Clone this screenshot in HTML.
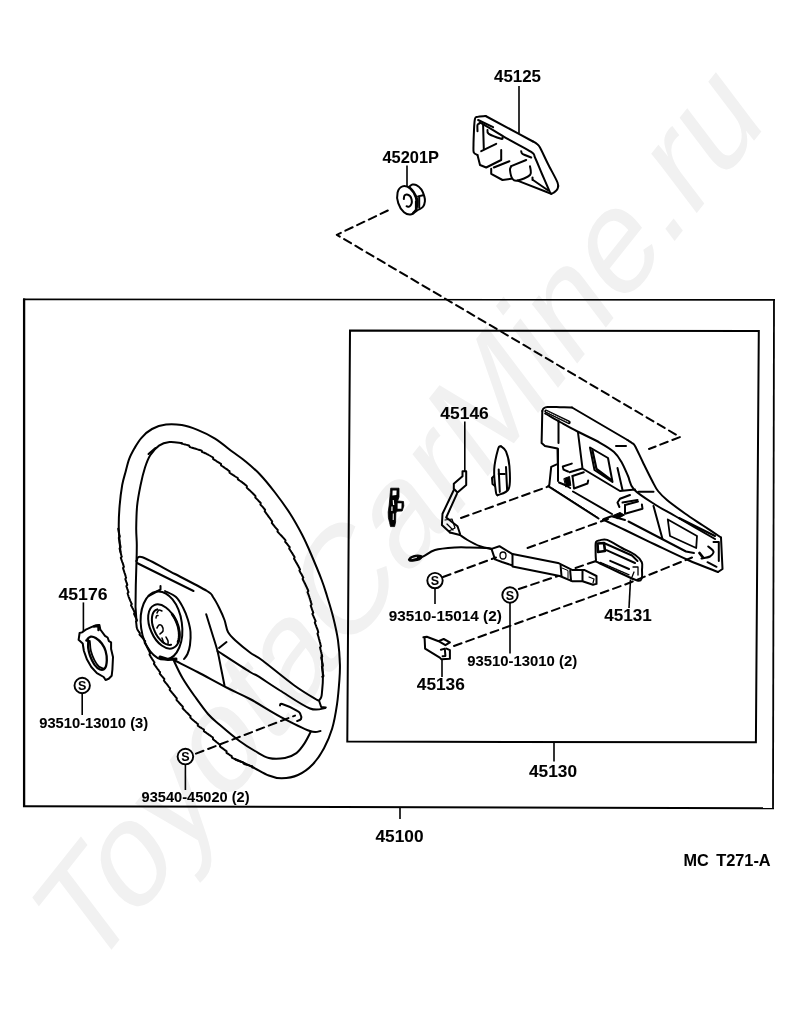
<!DOCTYPE html>
<html><head><meta charset="utf-8"><style>
html,body{margin:0;padding:0;background:#fff;width:800px;height:1034px;overflow:hidden}
svg{display:block}
text{font-family:"Liberation Sans",sans-serif;font-weight:bold;fill:#000;stroke:#000;stroke-width:0.05px}
svg{will-change:transform;opacity:0.999}
</style></head><body>
<svg width="800" height="1034" viewBox="0 0 800 1034">
<rect width="800" height="1034" fill="#fff"/>
<!-- WATERMARK -->
<g id="wm"><text transform="matrix(0.8588 -1.0812 0.855 1.13 89.3 977.7)" font-size="100" style="font-weight:normal;fill:#f1f1f1;stroke:none;font-kerning:normal">ToyotaCarMine.ru</text></g>
<!-- FRAMES -->
<g fill="none" stroke="#000" stroke-width="2">
<line x1="23" y1="299.4" x2="775" y2="299.9" stroke-width="1.6"/>
<line x1="24.1" y1="298.5" x2="24.1" y2="807" stroke-width="2.3"/>
<line x1="23" y1="806.2" x2="774" y2="808.2" stroke-width="2"/>
<line x1="774" y1="299.5" x2="773" y2="809" stroke-width="1.8"/>
<polygon points="350,330.5 758.8,331 755.9,742.3 347.3,741.6"/>
</g>
<!-- DRAWINGS -->
<g id="draw" fill="none" stroke="#000" stroke-width="2" stroke-linejoin="round" stroke-linecap="round">
<path d="M235.0,759.0 C237.9,760.3 246.9,764.2 252.5,767.0 C258.1,769.8 263.9,773.6 268.8,775.5 C273.6,777.4 276.9,778.4 281.8,778.3 C286.6,778.2 292.9,777.3 298.0,775.0 C303.1,772.7 308.3,769.0 312.6,764.5 C316.9,760.0 320.8,754.2 324.0,748.2 C327.2,742.3 329.9,736.1 332.1,728.8 C334.3,721.4 335.8,712.5 337.0,704.4 C338.2,696.3 338.9,686.7 339.4,680.0 C339.9,673.3 340.1,670.9 339.9,664.3 C339.7,657.7 339.1,648.4 338.0,640.4 C336.9,632.4 334.9,624.1 333.0,616.5 C331.1,608.9 328.6,601.2 326.7,595.0 C324.8,588.8 324.1,586.3 321.5,579.5 C318.9,572.7 314.2,561.5 311.0,554.0 C307.8,546.5 305.5,541.2 302.0,534.5 C298.5,527.8 294.5,520.5 290.0,513.5 C285.5,506.5 280.0,499.0 275.0,492.5 C270.0,486.0 265.0,479.8 260.0,474.5 C255.0,469.2 249.6,464.8 245.0,461.0 C240.4,457.2 237.5,455.5 232.5,451.8 C227.5,448.0 220.8,442.2 215.0,438.6 C209.2,435.0 203.0,432.1 197.5,429.9 C192.0,427.7 187.0,426.0 181.8,425.1 C176.5,424.3 171.0,424.0 166.0,424.6 C161.0,425.2 156.1,426.8 152.0,429.0 C147.9,431.2 144.4,434.5 141.5,437.8 C138.6,441.0 136.5,444.8 134.5,448.2 C132.5,451.8 130.7,455.0 129.2,458.8 C127.8,462.5 126.9,466.6 125.8,471.0 C124.6,475.4 123.3,479.2 122.2,485.0 C121.2,490.8 120.2,498.7 119.6,506.0 C119.0,513.3 118.6,521.1 118.8,528.8 C118.9,536.4 120.2,548.1 120.5,552.0"/>
<path d="M118.2,528.8 L118.3,529.3 L118.4,530.0 L118.6,530.7 L118.7,531.6 L118.9,532.5 L119.1,533.4 L119.3,534.4 L119.6,535.5 L119.8,536.6 L118.8,537.8 L119.0,539.0 L119.3,540.2 L119.5,541.4 L119.7,542.6 L119.9,543.7 L120.2,544.9 L120.4,546.0 L120.6,547.2 L119.6,548.3 L119.8,549.3 L120.0,550.3 L120.3,551.2 L120.5,552.0 L120.8,553.3 L121.1,554.5 L121.4,555.6 L121.8,556.6 L120.8,557.8 L121.1,558.7 L121.4,559.5 L121.7,560.4 L122.0,561.2 L122.3,562.1 L122.7,563.0 L123.0,563.9 L123.3,564.9 L123.6,565.9 L123.9,566.8 L123.0,568.0 L123.3,568.9 L123.6,569.9 L123.9,570.8 L124.2,571.8 L124.5,572.8 L124.8,573.7 L125.2,574.7 L125.5,575.7 L125.8,576.8 L126.1,577.8 L125.3,579.0 L125.7,580.1 L126.0,581.0 L126.3,581.9 L126.7,582.9 L127.0,583.9 L127.3,584.9 L126.4,586.1 L126.7,587.1 L127.1,588.1 L127.4,589.1 L127.8,590.1 L128.1,591.1 L128.5,592.1 L127.6,593.3 L127.9,594.3 L128.2,595.2 L128.5,596.2 L128.8,597.1 L129.2,598.1 L129.6,599.1 L130.0,600.1 L130.4,601.1 L130.9,602.1 L131.3,603.0 L131.8,604.0 L131.0,605.3 L131.5,606.2 L132.0,607.1 L132.4,607.9 L132.9,608.8 L133.3,609.6 L133.7,610.4 L134.2,611.5 L134.7,612.6 L134.0,613.9 L134.5,614.9 L134.9,615.8 L135.4,616.8 L135.8,617.7 L136.2,618.6 L136.5,619.5 L136.9,620.4 L136.0,621.6 L136.2,622.6 L136.3,623.5 L136.4,624.5 L136.5,625.4 L136.6,626.4 L136.7,627.3 L137.0,628.3 L137.4,629.4 L137.9,630.3 L138.3,631.0 L138.8,631.7 L139.3,632.4 L139.9,633.1 L139.5,634.5 L140.2,635.3 L140.9,636.0 L141.6,636.8 L142.3,637.6 L143.1,638.5 L143.8,639.3 L144.5,640.3 L145.2,641.2 L144.7,642.7 L145.1,643.4 L145.6,644.2 L146.0,645.0 L146.5,645.8 L146.9,646.7 L147.4,647.6 L147.8,648.5 L148.3,649.4 L148.7,650.3 L149.2,651.2 L149.6,652.1 L150.1,653.1 L149.5,654.5 L150.0,655.4 L150.5,656.3 L151.0,657.2 L151.6,658.1 L152.1,659.0 L152.7,659.9 L153.3,660.7 L153.8,661.5 L154.4,662.4 L153.9,663.8 L154.5,664.6 L155.1,665.5 L155.7,666.3 L156.3,667.1 L156.9,668.0 L157.5,668.8 L158.2,669.6 L158.8,670.5 L159.4,671.3 L160.1,672.1 L159.7,673.6 L160.3,674.3 L161.0,675.1 L161.6,675.9 L162.3,676.7 L163.0,677.5 L163.6,678.2 L164.3,679.0 L163.9,680.5 L164.5,681.3 L165.1,682.1 L165.7,682.9 L166.4,683.7 L167.0,684.4 L167.6,685.2 L168.2,686.0 L168.8,686.8 L169.5,687.6 L170.1,688.3 L169.7,689.8 L170.3,690.6 L171.0,691.3 L171.6,692.1 L172.2,692.9 L172.9,693.7 L173.5,694.5 L174.2,695.2 L174.8,696.0 L175.5,696.8 L176.2,697.6 L176.8,698.4 L176.5,699.9 L177.2,700.7 L177.9,701.4 L178.6,702.2 L179.3,703.0 L180.0,703.8 L180.7,704.5 L181.4,705.3 L182.2,706.0 L182.9,706.8 L182.6,708.3 L183.3,709.0 L184.0,709.7 L184.7,710.4 L185.4,711.1 L186.1,711.9 L186.8,712.6 L187.6,713.3 L188.3,714.0 L189.0,714.7 L189.7,715.4 L190.5,716.1 L190.3,717.6 L191.0,718.2 L191.7,718.9 L192.4,719.5 L193.2,720.2 L193.9,720.8 L194.7,721.5 L195.5,722.1 L196.3,722.8 L197.1,723.5 L197.9,724.1 L197.8,725.6 L198.6,726.2 L199.4,726.8 L200.3,727.3 L201.2,727.9 L202.1,728.5 L203.0,729.0 L203.9,729.6 L203.9,731.2 L204.8,731.8 L205.7,732.4 L206.5,733.0 L207.4,733.6 L208.2,734.2 L209.1,734.8 L209.9,735.3 L210.7,735.9 L211.4,736.5 L212.2,737.0 L212.9,737.6 L213.0,739.2 L213.9,739.9 L214.7,740.6 L215.6,741.2 L216.4,741.9 L217.1,742.5 L217.9,743.1 L218.6,743.8 L219.4,744.4 L220.1,745.0 L220.0,746.5 L220.8,747.1 L221.6,747.7 L222.5,748.3 L223.3,748.9 L224.1,749.5 L224.9,750.1 L225.8,750.7 L226.6,751.3 L226.5,752.8 L227.3,753.3 L228.2,753.9 L229.1,754.5 L229.9,755.1 L230.8,755.6 L231.7,756.1 L231.9,757.6 L232.9,758.2 L233.9,758.7 L234.9,759.2 L235.7,759.6 L236.7,760.1 L237.6,760.5 L238.7,760.9 L239.8,761.3 L240.9,761.7 L242.0,762.0 L243.1,762.4 L243.8,763.9 L244.9,764.2 L246.0,764.6 L247.1,764.9 L248.1,765.1 L249.1,765.4 L250.0,765.7 L250.8,765.9 L251.5,766.1 L252.2,766.3 L252.3,767.5"/>
<path d="M136.5,561.0 C136.6,558.3 136.8,550.4 136.8,545.0 C136.8,539.6 136.2,535.2 136.2,528.8 C136.3,522.2 136.4,513.3 137.1,506.0 C137.8,498.7 139.3,491.4 140.6,485.0 C141.9,478.6 143.4,472.5 145.0,467.5 C146.6,462.5 147.9,458.9 150.2,455.2 C152.6,451.6 155.8,447.8 159.0,445.6 C162.2,443.4 165.7,442.5 169.5,442.1 C173.3,441.7 179.7,442.9 181.8,443.0"/>
<path d="M181.5,443.6 L182.1,443.7 L182.8,443.9 L183.6,444.1 L184.6,444.4 L185.6,444.6 L186.7,444.9 L187.9,445.2 L189.0,445.5 L189.8,447.0 L190.9,447.4 L192.1,447.7 L193.0,448.0 L193.9,448.3 L194.8,448.6 L195.7,448.8 L196.7,449.1 L197.6,449.4 L198.6,449.7 L199.6,450.0 L200.6,450.3 L201.7,450.6 L202.2,452.1 L203.2,452.4 L204.2,452.8 L205.2,453.2 L206.2,453.7 L207.0,454.1 L207.9,454.5 L208.7,455.0 L209.6,455.5 L210.5,456.0 L211.3,456.5 L212.2,457.0 L213.1,457.6 L213.2,459.1 L214.1,459.6 L215.0,460.2 L215.9,460.7 L216.7,461.3 L217.6,461.8 L218.5,462.3 L219.3,462.8 L220.1,463.4 L221.0,463.9 L221.1,465.4 L222.0,466.0 L222.8,466.5 L223.7,467.1 L224.5,467.7 L225.3,468.3 L226.2,468.8 L227.0,469.4 L227.8,470.0 L228.6,470.6 L229.5,471.1 L229.5,472.6 L230.3,473.2 L231.1,473.8 L232.0,474.3 L232.8,474.9 L233.7,475.4 L234.5,476.0 L235.3,476.5 L236.1,477.0 L237.0,477.5 L237.8,478.0 L237.9,479.4 L238.7,479.9 L239.5,480.5 L240.3,481.0 L241.2,481.6 L242.1,482.2 L242.9,482.9 L243.9,483.6 L244.8,484.4 L245.6,485.0 L246.3,485.6 L246.9,486.2 L246.7,487.6 L247.4,488.3 L248.1,488.9 L248.8,489.6 L249.6,490.2 L250.3,490.9 L251.0,491.6 L251.7,492.3 L252.5,493.0 L253.2,493.8 L254.0,494.5 L254.7,495.3 L255.5,496.1 L255.3,497.6 L256.1,498.3 L256.9,499.1 L257.7,499.9 L258.4,500.7 L259.2,501.5 L260.0,502.3 L260.7,503.0 L260.4,504.5 L261.0,505.2 L261.7,505.9 L262.4,506.6 L263.1,507.4 L263.7,508.2 L264.4,509.0 L265.1,509.8 L264.7,511.3 L265.4,512.1 L266.0,513.0 L266.6,513.9 L267.3,514.7 L267.9,515.6 L268.5,516.5 L269.2,517.3 L269.8,518.2 L270.4,519.0 L271.0,519.9 L271.6,520.7 L272.2,521.5 L271.8,523.0 L272.4,523.7 L273.0,524.5 L273.6,525.2 L274.2,525.9 L274.7,526.6 L275.4,527.4 L276.2,528.3 L277.0,529.2 L277.7,530.0 L277.5,531.5 L278.2,532.3 L278.9,533.1 L279.6,533.9 L280.3,534.6 L281.0,535.3 L281.7,536.0 L282.3,536.7 L283.0,537.4 L283.6,538.1 L284.3,538.9 L284.9,539.6 L285.5,540.3 L285.2,541.8 L285.8,542.5 L286.5,543.2 L287.1,544.0 L287.8,544.8 L288.4,545.6 L289.1,546.4 L289.7,547.2 L289.2,548.6 L289.8,549.5 L290.3,550.3 L290.9,551.2 L291.4,552.0 L292.0,552.9 L292.5,553.7 L293.0,554.6 L293.6,555.5 L294.1,556.3 L294.6,557.2 L294.0,558.6 L294.5,559.4 L295.0,560.3 L295.5,561.2 L296.0,562.1 L296.5,562.9 L297.0,563.8 L297.5,564.7 L298.0,565.6 L298.5,566.5 L299.0,567.4 L299.5,568.4 L300.0,569.3 L299.4,570.6 L299.9,571.5 L300.4,572.4 L300.9,573.3 L301.4,574.1 L301.9,575.0 L302.3,575.9 L302.8,576.7 L303.3,577.6 L302.6,578.9 L303.0,579.7 L303.5,580.7 L304.0,581.7 L304.5,582.6 L304.9,583.6 L305.4,584.5 L305.8,585.4 L306.2,586.3 L306.7,587.2 L307.1,588.1 L307.5,589.0 L307.9,589.9 L308.3,590.9 L307.5,592.2 L307.9,593.1 L308.3,594.1 L308.7,595.1 L309.0,596.0 L309.3,596.9 L309.6,597.8 L310.0,598.8 L310.2,599.7 L310.5,600.6 L310.8,601.6 L311.1,602.6 L311.4,603.5 L311.6,604.5 L310.7,605.7 L311.1,606.7 L311.4,607.7 L311.8,608.7 L312.1,609.7 L312.5,610.7 L312.9,611.7 L313.3,612.7 L312.4,613.9 L312.8,614.8 L313.2,615.7 L313.6,616.6 L314.0,617.5 L314.4,618.4 L314.8,619.3 L315.2,620.2 L315.6,621.2 L314.8,622.4 L315.1,623.4 L315.5,624.4 L315.9,625.3 L316.2,626.3 L316.6,627.3 L317.0,628.3 L317.3,629.2 L317.7,630.2 L318.0,631.2 L318.3,632.3 L317.5,633.5 L317.7,634.4 L318.0,635.4 L318.3,636.3 L318.6,637.3 L318.8,638.3 L319.1,639.3 L319.4,640.3 L319.6,641.3 L319.9,642.3 L320.2,643.3 L320.4,644.3 L320.7,645.3 L320.9,646.3 L320.0,647.5 L320.3,648.5 L320.5,649.5 L320.8,650.5 L321.0,651.5 L321.3,652.5 L321.5,653.5 L321.8,654.5 L322.0,655.5 L322.2,656.5 L321.3,657.7 L321.5,658.8 L321.8,659.9 L322.0,661.0 L322.2,662.2 L322.5,663.3 L322.7,664.5 L322.9,665.6 L321.9,666.8 L322.1,668.0 L322.3,669.1 L322.4,670.1 L322.6,671.1 L322.8,672.1 L322.9,673.0 L323.0,673.9 L323.2,674.7 L323.3,675.5 L323.4,676.1 L322.3,676.8"/>
<path d="M321.6,655.5 C321.8,659.1 322.8,670.9 322.9,677.0 C323.0,683.1 322.3,688.6 322.0,692.0 C321.7,695.4 321.8,695.8 321.2,697.2 C320.8,698.7 319.4,700.0 319.0,700.5"/>
<path d="M148.5,454.0 L155.5,448.0"/>
<path d="M136.5,561.0 L135.8,585.0 L135.5,607.0 L136.5,621.0"/>
<path d="M136.5,561.0 C137.5,560.4 136.1,555.1 142.5,557.2 C148.9,559.4 164.2,568.4 175.0,574.0 C185.8,579.6 200.7,587.2 207.0,591.0 C213.3,594.8 211.0,594.2 213.0,597.0 C215.0,599.8 217.1,603.7 219.0,607.5 C220.9,611.3 223.0,615.9 224.5,620.0 C226.0,624.1 226.1,628.5 228.0,632.0 C229.9,635.5 232.3,637.6 236.0,641.0 C239.7,644.4 245.6,649.2 250.0,652.5 C254.4,655.8 255.2,655.0 262.5,660.5 C269.8,666.0 284.8,678.6 294.0,685.2 C303.2,691.9 313.6,697.8 317.5,700.2"/>
<path d="M137.0,563.0 L193.5,591.0"/>
<path d="M206.2,614.2 C207.2,617.4 210.1,626.9 212.0,633.0 C213.9,639.1 216.0,645.2 217.5,651.0 C219.0,656.8 219.8,662.2 221.0,668.0 C222.2,673.8 223.9,682.6 224.5,685.5"/>
<path d="M217.5,651.0 C222.9,654.5 243.2,667.8 250.0,672.0 C256.8,676.2 253.0,673.2 258.0,676.2 C263.0,679.3 271.3,685.1 280.0,690.5 C288.7,695.9 302.5,705.6 310.0,708.5 C317.5,711.4 322.5,708.2 325.0,708.1"/>
<path d="M219.0,648.0 L226.5,642.0"/>
<path d="M319.0,700.5 L321.2,707.0 L325.8,707.4"/>
<path d="M174.8,660.5 C178.5,662.4 188.9,667.5 197.5,672.0 C206.1,676.5 217.8,683.0 226.5,687.5 C235.2,692.0 241.0,694.1 250.0,699.0 C259.0,703.9 270.5,711.4 280.5,716.8 C290.5,722.1 303.3,728.6 310.0,731.0 C316.7,733.4 318.8,731.0 320.5,731.0"/>
<path d="M173.5,660.0 C175.0,663.0 179.0,672.0 182.5,678.0 C186.0,684.0 190.2,690.0 194.5,696.0 C198.8,702.0 203.8,709.2 208.0,714.0 C212.2,718.8 214.8,720.5 220.0,725.0 C225.2,729.5 233.7,736.7 239.5,741.0 C245.3,745.3 250.1,748.2 255.0,751.0 C259.9,753.8 263.8,756.8 268.8,758.0 C273.8,759.2 280.4,758.8 285.0,758.0 C289.6,757.2 293.1,755.5 296.4,753.1 C299.6,750.7 302.1,747.0 304.5,743.4 C306.9,739.8 309.7,733.7 310.8,731.8"/>
<path d="M280.0,705.5 C280.4,705.2 279.4,703.1 282.2,704.0 C285.1,704.9 294.2,709.1 297.2,710.8 C300.2,712.4 299.6,712.4 300.2,713.8 C300.9,715.1 301.5,717.8 301.0,719.0 C300.5,720.2 297.9,720.7 297.2,721.0"/>
<path d="M181.80,622.65 A20.50,34.00 -8.0 1 1 141.20,628.35 A20.50,34.00 -8.0 1 1 181.80,622.65Z"/>
<path d="M165.0,591.0 C166.8,592.0 173.0,594.2 176.0,597.0 C179.0,599.8 181.0,603.7 183.0,607.5 C185.0,611.3 186.8,615.9 188.0,620.0 C189.2,624.1 190.2,627.8 190.5,632.0 C190.8,636.2 190.5,641.3 190.0,645.0 C189.5,648.7 188.5,651.7 187.5,654.0 C186.5,656.3 184.6,658.2 184.0,659.0"/>
<path d="M176.13,621.01 A13.50,23.00 -24.0 1 1 151.47,631.99 A13.50,23.00 -24.0 1 1 176.13,621.01Z"/>
<path d="M171.1,644.7 L169.7,644.9 L168.2,644.8 L166.6,644.4 L165.0,643.7 L163.4,642.7 L161.8,641.4 L160.3,639.9 L158.8,638.2 L157.4,636.3 L156.1,634.2 L155.0,632.0 L154.0,629.7 L153.2,627.4 L152.5,625.1 L152.1,622.8 L151.9,620.5 L151.9,618.4 L152.1,616.4 L152.5,614.7 L153.1,613.1 L153.9,611.7 L154.9,610.6 L156.1,609.8 L157.3,609.3"/>
<path d="M172.2,614.2 L172.9,615.2 L173.6,616.3 L174.3,617.4 L175.0,618.6 L175.6,619.8 L176.1,621.0 L176.7,622.2 L177.1,623.5 L177.6,624.7 L178.0,626.0 L178.3,627.3 L178.6,628.5 L178.8,629.8 L179.0,631.0 L179.2,632.3 L179.2,633.5 L179.3,634.6 L179.3,635.8 L179.2,636.9 L179.1,638.0 L178.9,639.1 L178.7,640.1 L178.4,641.0 L178.1,642.0" stroke-width="2.8"/>
<path d="M148.5,596.0 L160.5,589.5 L160.5,586.0"/>
<path d="M157.0,613.0 C157.3,612.5 158.2,610.3 159.0,610.0 C159.8,609.7 161.5,610.8 162.0,611.0" stroke-width="1.5"/>
<path d="M156.0,618.0 C156.1,617.7 156.2,616.4 156.5,616.0 C156.8,615.6 157.8,615.6 158.0,615.5" stroke-width="1.5"/>
<path d="M157.0,628.0 C157.3,627.5 158.2,625.3 159.0,625.0 C159.8,624.7 161.3,625.0 162.0,626.0 C162.7,627.0 163.3,629.7 163.0,631.0 C162.7,632.3 160.5,633.5 160.0,634.0" stroke-width="1.6"/>
<path d="M162.0,638.0 C162.2,638.5 162.7,640.2 163.0,641.0 C163.3,641.8 163.8,642.7 164.0,643.0" stroke-width="1.5"/>
<path d="M166.0,637.0 C166.3,637.7 167.7,639.8 168.0,641.0 C168.3,642.2 168.0,643.5 168.0,644.0" stroke-width="1.5"/>
<path d="M160.0,657.0 L168.0,659.5 L176.0,659.0" stroke-width="3"/>
<path d="M79.6,633.0 L78.6,639.8 L82.7,643.5 L83.9,651.0 L87.0,659.6 L91.3,667.0 L96.9,673.2 L103.7,677.0 L105.6,680.0 L108.7,678.8 L111.7,675.7 L112.4,669.5 L113.0,657.1 L111.1,649.0 L111.1,642.3 L108.9,641.2 L107.6,637.5 L105.0,635.8 L100.3,629.5 L99.4,625.0 L95.0,625.6 L90.7,627.4 L86.4,629.3 L82.0,632.4Z"/>
<path d="M94.0,626.5 L98.5,625.5 L98.5,630.0" stroke-width="2.4"/>
<path d="M86.4,640.4 C86.8,639.8 89.2,637.1 90.7,636.7 C92.2,636.3 93.9,636.9 95.7,638.0 C97.5,639.1 100.2,641.3 101.8,643.5 C103.4,645.7 104.8,648.2 105.6,651.0 C106.4,653.8 106.9,657.3 106.8,660.2 C106.7,663.1 106.0,666.8 104.9,668.3 C103.8,669.8 101.8,670.1 100.0,669.5 C98.2,668.9 96.1,666.9 94.4,664.6 C92.8,662.3 91.1,658.7 90.1,655.9 C89.1,653.1 88.5,650.4 88.2,647.8 C87.9,645.2 88.5,641.6 88.2,640.4 C87.9,639.2 86.0,641.0 86.4,640.4Z" stroke-width="2.3"/>
<path d="M89.8,641.0 C90.0,642.7 90.1,647.8 90.9,651.0 C91.7,654.2 93.1,657.6 94.4,660.2 C95.7,662.8 97.2,665.1 98.8,666.5 C100.3,667.9 102.7,668.2 103.5,668.5" stroke-width="1.8"/>
<path d="M196.0,753.6 L295.0,715.6" stroke-dasharray="8 5"/>
<path d="M387.8,210.5 L336.8,234.8 L680.0,437.0 L649.0,449.0" stroke-dasharray="8 5"/>
<path d="M485.6,116.0 C484.2,116.2 479.3,116.4 477.5,116.9 C475.7,117.4 475.6,116.6 475.0,118.8 C474.4,120.9 474.2,125.6 474.0,130.0 C473.8,134.4 473.5,141.2 473.5,145.0 C473.5,148.8 473.1,150.8 473.8,152.5 C474.4,154.2 476.9,154.6 477.5,155.0"/>
<path d="M485.6,116.0 L517.5,133.1 L533.0,141.5"/>
<path d="M533.0,141.5 C533.7,141.9 535.8,143.0 537.0,144.0 C538.2,145.0 538.2,144.2 540.0,147.5 C541.8,150.8 545.1,158.2 548.0,164.0 C550.9,169.8 555.9,178.4 557.5,182.5 C559.1,186.6 558.1,187.1 557.5,188.8 C556.9,190.4 555.0,191.7 554.0,192.5 C553.0,193.3 551.7,193.5 551.2,193.8"/>
<path d="M477.5,131.2 C477.5,130.2 477.2,126.2 477.5,125.0 C477.8,123.8 478.2,124.0 479.0,123.8 C479.8,123.5 478.0,121.4 482.5,123.8 C487.0,126.1 498.1,133.4 506.2,138.1 C514.4,142.8 526.5,148.7 531.2,151.9 C536.0,155.1 533.2,153.8 535.0,157.5 C536.8,161.2 539.5,168.2 542.0,174.0 C544.5,179.8 548.7,189.4 550.0,192.5"/>
<path d="M478.1,120.0 L493.1,127.2"/>
<path d="M483.1,125.0 L483.8,148.8"/>
<path d="M487.5,130.0 C487.7,130.6 486.5,132.3 488.8,133.8 C491.0,135.2 499.0,138.1 501.2,138.8 C503.5,139.4 502.3,137.7 502.5,137.5"/>
<path d="M521.2,151.2 C521.5,151.7 520.8,152.7 522.5,153.8 C524.2,154.8 529.8,156.9 531.2,157.5"/>
<path d="M477.5,155.0 L480.0,165.0 L486.2,167.5 L501.2,160.0 L501.2,150.0"/>
<path d="M481.2,151.2 L496.2,143.8"/>
<path d="M491.2,168.8 L491.2,173.8 L502.5,180.0 L511.2,178.8"/>
<path d="M493.8,167.5 L509.4,161.2"/>
<path d="M511.2,166.2 C511.0,166.9 509.8,167.9 510.0,170.0 C510.2,172.1 511.2,177.0 512.5,178.8 C513.8,180.5 514.6,181.2 517.5,180.6 C520.4,180.0 527.9,177.4 530.0,175.0 C532.1,172.6 530.0,167.7 530.0,166.2"/>
<path d="M511.2,166.2 L526.2,160.0"/>
<path d="M517.5,180.6 L551.2,193.8"/>
<path d="M532.5,180.0 L532.5,177.5"/>
<path d="M533.0,180.0 L547.5,190.0"/>
<path d="M415.75,197.46 A9.20,14.50 -18.0 1 1 398.25,203.14 A9.20,14.50 -18.0 1 1 415.75,197.46Z"/>
<path d="M409.5,186.5 C410.0,186.2 411.4,184.8 412.5,184.6 C413.6,184.4 414.9,184.3 416.4,185.1 C417.9,185.9 420.2,187.7 421.5,189.6 C422.8,191.5 423.7,194.4 424.3,196.4 C424.9,198.4 425.1,199.7 424.9,201.4 C424.7,203.1 424.1,205.2 423.2,206.5 C422.3,207.8 420.6,208.5 419.2,209.3 C417.9,210.2 416.0,211.2 415.3,211.6"/>
<path d="M409.0,186.8 C409.7,187.5 411.8,189.2 413.0,190.8 C414.2,192.3 415.2,194.3 416.0,196.0 C416.8,197.7 417.5,198.9 417.6,201.0 C417.7,203.1 417.2,206.8 416.4,208.8 C415.6,210.8 413.6,212.3 413.0,213.0"/>
<path d="M415.9,201.4 L415.9,210.0"/>
<path d="M419.2,197.5 L419.2,207.6"/>
<path d="M418.0,196.4 L423.2,195.2"/>
<path d="M403.8,199.0 C403.9,198.4 404.0,196.3 404.5,195.5 C405.0,194.7 406.0,194.3 406.9,194.4 C407.8,194.5 409.2,195.2 410.0,196.0 C410.8,196.8 411.3,198.2 411.6,199.5 C411.9,200.8 412.0,202.3 411.6,203.5 C411.2,204.7 410.3,206.0 409.5,206.5 C408.7,207.0 407.1,206.3 406.6,206.3"/>
<path d="M542.3,411.0 C542.5,410.6 542.6,409.2 543.5,408.5 C544.4,407.8 544.8,407.2 547.5,407.0 C550.2,406.8 555.9,407.1 560.0,407.2 C564.1,407.3 570.0,407.4 572.0,407.5"/>
<path d="M572.0,407.5 L627.5,440.0"/>
<path d="M627.5,440.0 C628.2,440.5 630.8,442.0 632.0,443.0 C633.2,444.0 633.2,442.8 635.0,446.0 C636.8,449.2 640.2,456.8 643.0,462.5 C645.8,468.2 649.5,475.8 652.0,480.5 C654.5,485.2 655.5,487.8 658.0,491.0 C660.5,494.2 662.5,496.2 667.0,500.0 C671.5,503.8 679.0,509.2 685.0,513.5 C691.0,517.8 697.0,521.5 703.0,525.5 C709.0,529.5 718.0,535.5 721.0,537.5"/>
<path d="M721.0,537.5 L722.5,569.0 L718.0,572.0"/>
<path d="M718.0,572.0 C713.0,570.0 698.5,564.6 688.0,560.0 C677.5,555.4 665.5,549.5 655.0,544.5 C644.5,539.5 633.7,534.2 625.0,530.0 C616.3,525.8 606.7,521.2 603.0,519.5"/>
<path d="M542.3,411.0 L541.9,430.0 L541.6,443.0 L545.0,446.0 L557.5,448.5 L557.8,463.8 L551.2,466.8 L549.3,485.0 L548.2,486.2"/>
<path d="M548.2,486.2 L598.5,518.5"/>
<path d="M552.0,488.0 L598.0,517.5" stroke-width="1"/>
<path d="M573.0,491.5 L612.0,514.0"/>
<path d="M628.5,521.5 L686.0,551.5 L694.0,553.0"/>
<path d="M545.2,413.5 C547.9,415.0 555.6,419.5 561.0,422.5 C566.4,425.5 571.0,428.1 577.5,431.5 C584.0,434.9 593.9,439.3 600.0,442.8 C606.1,446.2 610.4,448.8 614.0,452.0 C617.6,455.2 619.2,458.0 621.5,462.0 C623.8,466.0 625.9,471.4 628.0,476.0 C630.1,480.6 629.5,484.8 634.0,489.5 C638.5,494.2 648.0,500.0 655.0,504.5 C662.0,509.0 666.0,510.8 676.0,516.5 C686.0,522.2 708.5,535.2 715.0,539.0"/>
<path d="M546.0,411.2 L569.0,422.4" stroke-width="3.4"/>
<path d="M546.5,411.4 L568.5,422.2" stroke-width="0.9" stroke="#fff" stroke-dasharray="1 1.1"/>
<path d="M558.5,420.5 L558.5,443.0"/>
<path d="M558.0,449.0 L558.0,481.0"/>
<path d="M578.0,432.5 L582.5,468.5 L620.0,491.0 L635.0,489.5"/>
<path d="M590.0,447.5 L608.0,458.0 L612.5,482.0 L594.5,470.0Z" stroke-width="2"/>
<path d="M592.5,450.5 L596.5,469.0 L610.5,479.5" stroke-width="2.2"/>
<path d="M617.5,468.0 L622.5,490.0"/>
<path d="M667.8,519.5 L697.0,536.0 L696.2,548.0 L670.0,536.0Z" stroke-width="1.8"/>
<path d="M679.0,518.0 L715.0,536.0"/>
<path d="M653.5,506.0 L662.5,539.0"/>
<path d="M616.0,446.0 L626.0,446.0"/>
<path d="M638.5,491.8 L653.5,491.8"/>
<path d="M571.8,463.6 L562.8,466.5 L563.5,469.6 L568.0,471.5"/>
<path d="M569.5,472.2 L582.2,468.5"/>
<path d="M572.5,476.0 L583.8,472.2"/>
<path d="M572.5,476.0 L574.0,488.5 L587.5,483.5 L588.2,480.5"/>
<path d="M559.0,482.5 L565.0,485.0 L570.2,488.0"/>
<path d="M564.2,478.5 L569.5,476.5 L570.8,485.5 L566,486.8 Z" fill="#000" stroke-width="1"/>
<path d="M630.0,495.0 L620.0,498.8 L617.5,502.5 L619.4,507.0"/>
<path d="M622.5,502.5 L637.5,500.0"/>
<path d="M625.0,505.0 L625.0,513.8 L642.5,508.8 L641.9,504.5"/>
<path d="M625.0,505.0 L638.0,501.5"/>
<path d="M613,515.5 L620,512.5 L624.5,515 L618,518.5 Z" fill="#000" stroke-width="1"/>
<path d="M612.5,516.5 L625.0,520.0"/>
<path d="M708.2,546.5 C708.9,547.1 711.6,549.0 712.5,550.0 C713.4,551.0 713.9,551.4 713.5,552.5 C713.1,553.6 712.0,555.5 710.0,556.5 C708.0,557.5 702.9,558.2 701.5,558.5"/>
<path d="M699.5,553.0 L703.0,557.5" stroke-width="2.8"/>
<path d="M713.5,542.0 L718.8,542.0 L718.8,561.0"/>
<path d="M707.5,562.2 L716.5,566.8"/>
<path d="M461.0,518.0 L547.0,487.0" stroke-dasharray="8 5"/>
<path d="M443.0,577.0 L496.0,557.5" stroke-dasharray="8 5"/>
<path d="M527.5,548.0 L600.0,521.8 L608.0,519.0" stroke-dasharray="8 5"/>
<path d="M518.8,589.0 L558.0,576.0" stroke-dasharray="8 5"/>
<path d="M575.5,568.0 L596.0,561.0" stroke-dasharray="8 5"/>
<path d="M454.0,646.0 L626.5,584.0 L692.0,557.5" stroke-dasharray="8 5"/>
<path d="M604.0,519.0 L612.0,516.0" stroke-dasharray="8 5"/>
<path d="M462.5,471.2 L466.2,471.2 L466.2,485.0 L457.5,492.5 L453.8,488.8 L453.8,483.8 L462.5,476.2Z"/>
<path d="M453.8,490.0 L442.5,513.8 L441.9,525.0 L450.0,532.5"/>
<path d="M456.9,493.8 L446.2,517.5 L457.5,526.2 L460.0,533.8"/>
<path d="M450.0,532.5 L460.0,535.0"/>
<path d="M445.0,520.0 L452.0,519.0 L455.0,528.0 L449.0,531.0" stroke-width="1.2"/>
<path d="M447.0,524.0 L453.0,530.0" stroke-width="1.2"/>
<path d="M460.0,535.0 C461.2,535.8 464.2,538.1 467.5,540.0 C470.8,541.9 476.0,544.8 480.0,546.2 C484.0,547.7 489.6,548.5 491.5,548.9"/>
<path d="M491.5,548.9 C490.6,548.8 489.8,548.2 486.2,548.0 C482.7,547.8 475.2,547.6 470.0,547.5 C464.8,547.4 460.8,547.1 455.0,547.5 C449.2,547.9 440.2,548.5 435.0,550.0 C429.8,551.5 426.9,554.7 423.8,556.2 C420.6,557.8 417.3,559.0 416.0,559.5"/>
<path d="M408.5,559.5 C410,556 416,554.5 421,555.5 C423.5,556.5 421,559.5 417,560.5 C413,561.5 409,561.5 408.5,559.5Z" fill="#000" stroke-width="1.2"/>
<path d="M412,558.6 L416.5,557.4" stroke="#fff" stroke-width="0.9"/>
<path d="M391,488.2 L399,488.2 L399,497 L397.6,501 L403.5,501.5 L403.8,506 L402.2,511 L397,511.2 L395.8,513 L395.6,522 L394.6,526.6 L390.5,526.6 L389.6,522.5 L388.4,517.7 L388.2,512 L389.2,505 L390.3,493 Z" fill="#000" stroke-width="0.8"/>
<path d="M392.6,490.6 L396.6,490.6 L396.4,495 L392.4,495.4 Z M397.6,503.2 L401.6,503.3 L401.4,508.8 L397.6,508.8 Z M391.4,506.5 L392.6,506.5 L392.5,511 L391.3,511 Z M392.8,513.5 L393.8,513.5 L393.7,520 L392.7,520 Z M392.7,500 L393.8,500 L394.3,505 L393,505 Z" fill="#fff" stroke="none"/>
<path d="M500.9,446.3 C500.4,446.8 499.2,445.1 498.1,449.0 C497.0,452.9 494.6,462.2 494.2,469.4 C493.8,476.5 495.3,487.6 495.9,491.9 C496.5,496.2 497.3,494.7 497.6,495.2"/>
<path d="M500.9,446.3 C501.8,447.1 504.6,448.1 506.0,451.4 C507.4,454.7 508.9,459.8 509.4,466.0 C509.9,472.2 510.8,483.6 508.8,488.5 C506.8,493.4 499.5,494.1 497.6,495.2"/>
<path d="M498.7,469.4 L499.8,491.9"/>
<path d="M506.0,467.1 L507.1,489.6"/>
<path d="M498.7,473.9 L504.9,473.9"/>
<path d="M494.0,476.0 L492.0,478.0 L492.5,484.0 L495.0,486.0"/>
<path d="M491.5,548.9 L499.4,546.2 L512.5,554.1 L512.5,565.5 L502.0,562.0 L495.0,559.4 L491.5,548.9"/>
<path d="M506.00,555.50 A3.00,3.50 0.0 1 1 500.00,555.50 A3.00,3.50 0.0 1 1 506.00,555.50Z" stroke-width="1.3"/>
<path d="M512.5,554.1 L558.0,562.9 L572.0,569.9 L584.2,569.9 L596.5,576.0 L596.5,583.9 L593.0,584.8 L582.5,581.2 L572.0,581.2 L559.8,576.0 L512.5,566.4"/>
<path d="M560.6,565.5 L561.5,576.0"/>
<path d="M570.2,570.8 L571.0,580.4"/>
<path d="M582.5,569.9 L582.5,580.4"/>
<path d="M562.0,568.0 L568.0,570.5 L568.0,578.0" stroke-width="1"/>
<path d="M589.0,577.0 L594.0,579.0 L593.0,583.0" stroke-width="1.2"/>
<path d="M596.0,542.0 C596.7,540.4 598.1,540.6 600.0,540.3 C601.9,539.9 603.6,538.6 607.2,539.9 C610.9,541.2 617.4,545.5 622.0,548.0 C626.6,550.5 631.7,552.4 635.0,554.8 C638.3,557.1 640.6,559.7 641.8,562.2 C642.9,564.8 642.0,567.4 642.0,570.0 C642.0,572.6 642.5,576.2 641.8,578.0 C641.0,579.8 641.4,581.6 637.2,580.5 C633.1,579.4 623.6,574.5 617.0,571.5 C610.4,568.5 601.0,564.2 597.5,562.2 C594.0,560.3 596.3,562.0 596.0,560.0 C595.7,558.0 595.6,553.0 595.6,550.0 C595.6,547.0 595.3,543.6 596.0,542.0Z"/>
<path d="M605.0,543.5 L632.0,555.5 L637.5,561.0"/>
<path d="M606.5,550.2 L635.0,563.0"/>
<path d="M610.2,560.8 L629.0,569.0"/>
<path d="M600.5,562.5 L629.0,574.8" stroke-width="1.4" stroke-dasharray="1.5 0.8"/>
<path d="M597.5,543.5 L604.0,543.0 L605.0,551.0 L598.0,552.0Z" stroke-width="2.6"/>
<path d="M633.0,567.0 L638.0,567.0 L638.0,575.0" stroke-width="1.3"/>
<path d="M634.0,572.0 L632.0,577.0" stroke-width="1.3"/>
<path d="M423.4,637.3 L426.8,636.8 L438.6,641.2 L443.7,639.0 L449.9,642.4 L445.4,645.2 L438.6,641.2"/>
<path d="M424.6,638.0 L425.1,648.6 L439.8,657.6 L441.4,659.2 L449.9,658.7 L449.9,650.2 L446.5,648.6"/>
<path d="M440.9,649.7 L444.8,648.6 L445.4,655.9 L442.6,656.2"/>
</g>
<!-- END DRAW -->
<!-- LEADERS -->
<g stroke="#000" stroke-width="1.6" fill="none">
<line x1="519" y1="86" x2="519" y2="133"/>
<line x1="407" y1="165.5" x2="407" y2="187"/>
<line x1="83.4" y1="602.4" x2="83.4" y2="631"/>
<line x1="82.2" y1="693.4" x2="82.2" y2="715"/>
<line x1="185.4" y1="764.6" x2="185.4" y2="790"/>
<line x1="400" y1="808" x2="400" y2="819"/>
<line x1="554" y1="742" x2="554" y2="761.5"/>
<line x1="464.8" y1="421.5" x2="464.8" y2="471"/>
<line x1="435" y1="588.4" x2="435" y2="604"/>
<line x1="510" y1="602.8" x2="510" y2="653.5"/>
<line x1="442" y1="659" x2="442" y2="677"/>
<line x1="630.5" y1="579.5" x2="629" y2="608"/>
</g>
<!-- S CIRCLES -->
<g stroke="#000" stroke-width="1.9" fill="#fff">
<circle cx="82.2" cy="685.5" r="7.7"/>
<circle cx="185.4" cy="756.6" r="7.8"/>
<circle cx="435" cy="580.6" r="7.7"/>
<circle cx="510" cy="595" r="7.7"/>
</g>
<g font-size="12.5" text-anchor="middle" style="font-weight:bold">
<text x="82.2" y="690.1">S</text>
<text x="185.4" y="761.2">S</text>
<text x="435" y="585.2">S</text>
<text x="510" y="599.6">S</text>
</g>
<!-- LABELS -->
<g font-size="16.5">
<text x="494" y="82" textLength="47" lengthAdjust="spacingAndGlyphs">45125</text>
<text x="382.5" y="162.5" textLength="56.5" lengthAdjust="spacingAndGlyphs">45201P</text>
<text x="58.5" y="599.8" textLength="49" lengthAdjust="spacingAndGlyphs">45176</text>
<text x="440.3" y="418.6" textLength="48.5" lengthAdjust="spacingAndGlyphs">45146</text>
<text x="604.3" y="620.6" textLength="47.5" lengthAdjust="spacingAndGlyphs">45131</text>
<text x="416.8" y="690" textLength="48" lengthAdjust="spacingAndGlyphs">45136</text>
<text x="529" y="777.4" textLength="48" lengthAdjust="spacingAndGlyphs">45130</text>
<text x="375.5" y="842" textLength="48" lengthAdjust="spacingAndGlyphs">45100</text>
<text x="683.4" y="865.9" textLength="25.3" lengthAdjust="spacingAndGlyphs">MC</text>
<text x="716.2" y="865.9" textLength="54.5" lengthAdjust="spacingAndGlyphs">T271-A</text>
</g>
<g font-size="14">
<text x="39.2" y="728.4" textLength="109" lengthAdjust="spacingAndGlyphs">93510-13010 (3)</text>
<text x="141.6" y="802.4" textLength="108" lengthAdjust="spacingAndGlyphs">93540-45020 (2)</text>
<text x="388.8" y="620.5" textLength="113" lengthAdjust="spacingAndGlyphs">93510-15014 (2)</text>
<text x="467.2" y="666" textLength="110" lengthAdjust="spacingAndGlyphs">93510-13010 (2)</text>
</g>

</svg>
</body></html>
